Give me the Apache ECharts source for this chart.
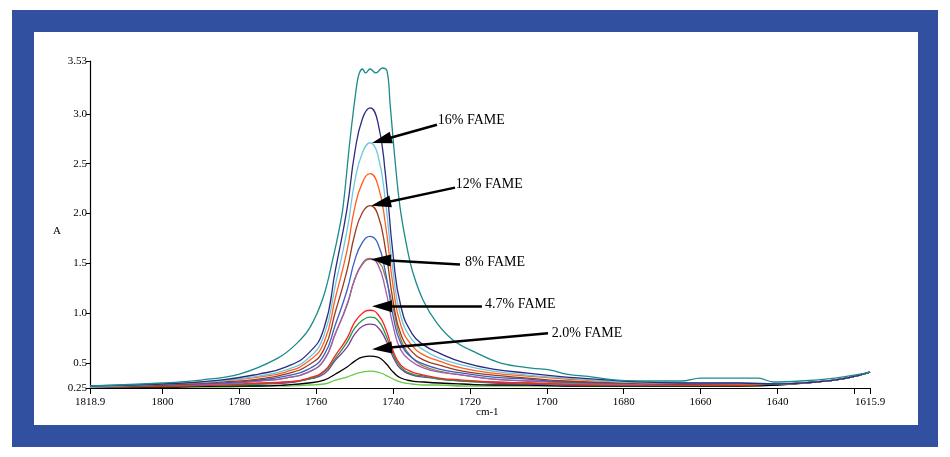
<!DOCTYPE html>
<html>
<head>
<meta charset="utf-8">
<script src="https://cdn.jsdelivr.net/npm/echarts@6/dist/echarts.min.js"></script>
<style>
html,body{margin:0;padding:0;background:#fff;}
#frame{position:absolute;left:12px;top:10px;width:884px;height:393px;border-style:solid;border-color:#3250a0;border-width:22px 20px 22px 22px;background:#fff;}
#chart{position:absolute;left:0;top:0;width:950px;height:457px;}
</style>
</head>
<body>
<div id="frame"></div>
<div id="chart"></div>
<script>
// shared wavenumber grid (cm-1)
const wavenumbers = [1818.9,1800,1785,1775,1768,1762,1758,1755,1752,1750,1748,1746,1744,1742,1740,1738,1735,1732,1728,1722,1714,1705,1695,1680,1665,1650,1640,1630,1622,1615.9];
const lightGreen = [0.26,0.26,0.26,0.27,0.27,0.28,0.29,0.33,0.36,0.39,0.41,0.42,0.41,0.38,0.34,0.31,0.29,0.28,0.28,0.27,0.27,0.27,0.27,0.27,0.27,0.27,0.28,0.31,0.35,0.41];
const black = [0.26,0.26,0.27,0.27,0.28,0.30,0.33,0.39,0.46,0.52,0.56,0.57,0.56,0.50,0.41,0.35,0.32,0.31,0.30,0.29,0.28,0.28,0.27,0.27,0.27,0.27,0.28,0.31,0.35,0.41];
const purple = [0.26,0.27,0.28,0.29,0.30,0.34,0.39,0.53,0.66,0.79,0.87,0.89,0.86,0.74,0.56,0.44,0.38,0.36,0.34,0.32,0.30,0.29,0.28,0.28,0.28,0.28,0.29,0.31,0.35,0.41];
const green = [0.26,0.27,0.28,0.29,0.31,0.34,0.41,0.55,0.71,0.85,0.93,0.96,0.93,0.79,0.59,0.46,0.39,0.37,0.34,0.32,0.31,0.30,0.29,0.28,0.28,0.28,0.29,0.31,0.35,0.41];
const red = [0.26,0.27,0.28,0.30,0.31,0.35,0.42,0.58,0.75,0.91,1.00,1.03,0.99,0.85,0.62,0.48,0.41,0.38,0.35,0.33,0.31,0.30,0.29,0.28,0.28,0.28,0.29,0.31,0.35,0.41];
const olive = [0.26,0.28,0.29,0.32,0.35,0.41,0.53,0.80,1.08,1.34,1.49,1.54,1.52,1.36,1.05,0.74,0.55,0.47,0.42,0.38,0.34,0.32,0.30,0.29,0.29,0.29,0.29,0.31,0.35,0.41];
const violet = [0.26,0.28,0.29,0.32,0.35,0.41,0.53,0.80,1.09,1.34,1.50,1.55,1.49,1.24,0.87,0.63,0.51,0.45,0.41,0.38,0.34,0.32,0.31,0.29,0.29,0.29,0.29,0.31,0.35,0.41];
const blue = [0.26,0.28,0.30,0.33,0.37,0.44,0.58,0.89,1.23,1.53,1.71,1.77,1.70,1.41,0.97,0.70,0.55,0.49,0.44,0.40,0.36,0.34,0.31,0.30,0.29,0.29,0.29,0.31,0.35,0.41];
const brown = [0.26,0.28,0.31,0.34,0.39,0.48,0.64,1.02,1.43,1.79,2.01,2.08,1.99,1.64,1.12,0.79,0.61,0.53,0.48,0.42,0.38,0.35,0.32,0.30,0.29,0.29,0.29,0.31,0.35,0.41];
const orange = [0.26,0.29,0.32,0.36,0.41,0.52,0.71,1.16,1.63,2.06,2.31,2.40,2.29,1.89,1.27,0.88,0.67,0.58,0.52,0.45,0.40,0.37,0.34,0.31,0.30,0.29,0.29,0.31,0.35,0.41];
const cyan = [0.26,0.29,0.32,0.37,0.43,0.55,0.78,1.29,1.83,2.32,2.61,2.71,2.59,2.12,1.41,0.97,0.73,0.63,0.55,0.48,0.42,0.38,0.35,0.31,0.30,0.30,0.29,0.31,0.35,0.41];
const navy = [0.27,0.29,0.33,0.39,0.46,0.60,0.85,1.44,2.05,2.61,2.95,3.06,2.92,2.39,1.58,1.07,0.79,0.68,0.60,0.51,0.44,0.40,0.36,0.32,0.30,0.30,0.29,0.31,0.35,0.41];
// outermost (teal) spectrum has its own sampling
const tealWavenumbers = [1818.9,1800,1790,1780,1770,1765,1761.6,1758.2,1755.6,1754.1,1753,1751.2,1749.4,1748.8,1748,1747.2,1746,1744.5,1742.8,1741.6,1740.8,1739.5,1738.2,1736.4,1734.8,1732.2,1728.6,1724.4,1718.2,1712,1704,1699,1695,1688,1682,1670,1665,1660,1650,1645,1641,1634,1625,1620,1615.9];
const tealValues = [0.27,0.30,0.33,0.39,0.55,0.70,0.86,1.16,1.56,1.83,2.08,2.75,3.31,3.41,3.45,3.41,3.45,3.41,3.46,3.43,3.10,2.53,2.06,1.66,1.40,1.13,0.90,0.73,0.60,0.50,0.45,0.43,0.39,0.36,0.33,0.32,0.32,0.35,0.35,0.35,0.31,0.32,0.35,0.38,0.41];

const xTicks = [1818.9,1800,1780,1760,1740,1720,1700,1680,1660,1640,1620,1615.9];
const xLabels = [1818.9,1800,1780,1760,1740,1720,1700,1680,1660,1640,1615.9];
const yTicks = [0.25,0.5,1.0,1.5,2.0,2.5,3.0,3.53];

const annotationText = ['16% FAME','12% FAME','8% FAME','4.7% FAME','2.0% FAME'];
const arrowStart = [[1728.6,2.89],[1723.9,2.26],[1722.6,1.49],[1716.9,1.07],[1699.7,0.80]];
const arrowEnd = [[1743.0,2.735],[1743.2,2.10],[1743.2,1.535],[1742.9,1.07],[1742.9,0.648]];
const labelAnchor = [[1728.4,2.93],[1723.7,2.29],[1721.3,1.51],[1716.1,1.09],[1698.7,0.80]];

const seriesDefs = [
  ['lightGreen', lightGreen, '#66c845'],
  ['black', black, '#000000'],
  ['purple', purple, '#7d3c98'],
  ['green', green, '#1e9a48'],
  ['red', red, '#ff2020'],
  ['olive', olive, '#8e8a3a'],
  ['violet', violet, '#a05ab0'],
  ['blue', blue, '#3b5cc4'],
  ['brown', brown, '#9b3a1a'],
  ['orange', orange, '#ff5f1f'],
  ['cyan', cyan, '#6cc8e0'],
  ['navy', navy, '#2e2b7f']
];

const font = 'Liberation Serif';
const series = seriesDefs.map(([name, vals, color]) => ({
  name, type: 'line', data: wavenumbers.map((w, i) => [w, vals[i]]),
  showSymbol: false, smooth: 0.5,
  lineStyle: {color, width: 1.3}, itemStyle: {color}, silent: true, animation: false
}));
series.push({
  name: 'teal', type: 'line', data: tealWavenumbers.map((w, i) => [w, tealValues[i]]),
  showSymbol: false, smooth: 0.4,
  lineStyle: {color: '#1b8a8a', width: 1.3}, itemStyle: {color: '#1b8a8a'}, silent: true, animation: false,
  markLine: {
    silent: true, animation: false,
    symbol: ['none', 'triangle'], symbolSize: [12, 20],
    lineStyle: {color: '#000', width: 2.5, type: 'solid'},
    label: {show: false},
    data: arrowStart.map((s, i) => [{coord: s}, {coord: arrowEnd[i]}])
  },
  markPoint: {
    silent: true, animation: false,
    symbol: 'circle', symbolSize: 0,
    label: {show: true, position: 'right', distance: 0, color: '#000', fontFamily: font, fontSize: 14},
    data: labelAnchor.map((c, i) => ({coord: c, label: {formatter: annotationText[i]}}))
  }
});

const chart = echarts.init(document.getElementById('chart'), null, {renderer: 'canvas'});
chart.setOption({
  backgroundColor: 'transparent',
  animation: false,
  grid: {left: 90, right: 80, top: 61, bottom: 69, containLabel: false},
  xAxis: {
    type: 'value', inverse: true, min: 1615.9, max: 1818.9,
    axisLine: {show: true, lineStyle: {color: '#000', width: 1.2}},
    axisTick: {show: true, customValues: xTicks, length: 6, lineStyle: {color: '#000'}},
    axisLabel: {customValues: xLabels, color: '#000', fontFamily: font, fontSize: 11, margin: 9,
      formatter: v => (Math.abs(v - 1818.9) < 1e-6 || Math.abs(v - 1615.9) < 1e-6) ? v.toFixed(1) : String(Math.round(v))},
    splitLine: {show: false}
  },
  yAxis: {
    type: 'value', min: 0.25, max: 3.53,
    axisLine: {show: true, lineStyle: {color: '#000', width: 1.2}},
    axisTick: {show: true, customValues: yTicks, length: 4, lineStyle: {color: '#000'}},
    axisLabel: {customValues: yTicks, color: '#000', fontFamily: font, fontSize: 11, margin: 3,
      formatter: v => (Math.abs(v - 0.25) < 1e-6 || Math.abs(v - 3.53) < 1e-6) ? v.toFixed(2) : v.toFixed(1)},
    splitLine: {show: false}
  },
  graphic: [
    {type: 'text', left: 53, top: 226, style: {text: 'A', fill: '#000', font: '11px "Liberation Serif"'}},
    {type: 'text', left: 476, top: 407, style: {text: 'cm-1', fill: '#000', font: '11px "Liberation Serif"'}}
  ],
  series
});
</script>
</body>
</html>
